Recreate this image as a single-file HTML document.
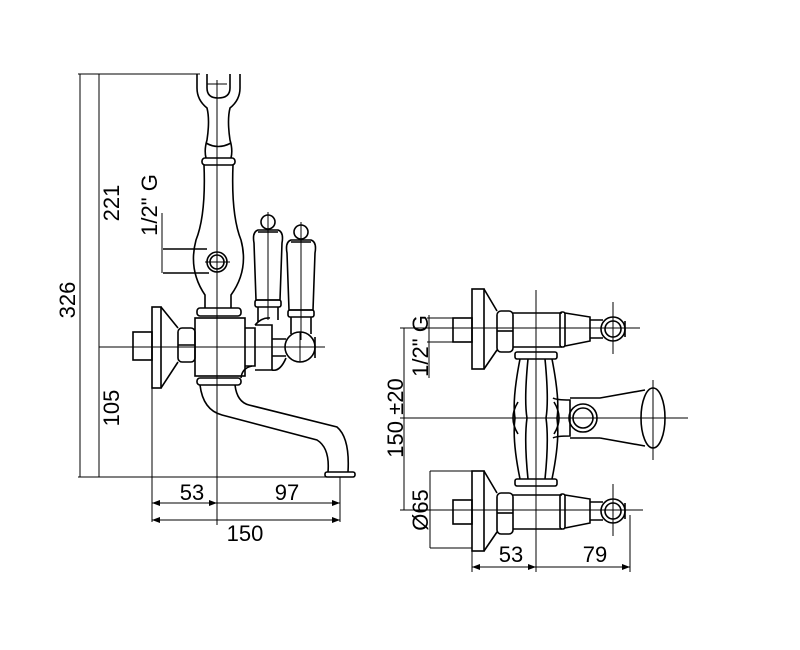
<!DOCTYPE html>
<html><head><style>body{margin:0;background:#fff}svg{display:block}text{font-family:"Liberation Sans",sans-serif;font-size:22px;fill:#000}</style></head>
<body>
<svg width="800" height="650" viewBox="0 0 800 650" xmlns="http://www.w3.org/2000/svg" fill="none" stroke="#000" stroke-width="1.6">
<defs><marker id="a" markerWidth="8" markerHeight="6" refX="8" refY="3" orient="auto"><path d="M0,0 L8,3 L0,6Z" fill="#000" stroke="none"/></marker></defs>
<g stroke-width="1">
<line x1="78" y1="74" x2="200" y2="74"/><line x1="78" y1="477" x2="330" y2="477"/>
<line x1="80" y1="74" x2="80" y2="477"/><line x1="99" y1="74" x2="99" y2="477"/>
<line x1="99" y1="347" x2="325" y2="347"/>
<line x1="217" y1="80" x2="217" y2="525"/>
<line x1="152" y1="388" x2="152" y2="522"/><line x1="340" y1="477" x2="340" y2="522"/>
<line x1="152" y1="503" x2="217" y2="503" marker-end="url(#a)"/><line x1="217" y1="503" x2="340" y2="503" marker-end="url(#a)"/>
<line x1="217" y1="503" x2="152" y2="503" marker-end="url(#a)"/>
<line x1="152" y1="520" x2="340" y2="520" marker-end="url(#a)"/><line x1="340" y1="520" x2="152" y2="520" marker-end="url(#a)"/>
<line x1="207" y1="84" x2="227" y2="84"/><line x1="205" y1="262" x2="230" y2="262"/>
<line x1="268" y1="212" x2="268" y2="320"/><line x1="301" y1="222" x2="301" y2="340"/>
<line x1="300" y1="332" x2="300" y2="362"/>
<line x1="162" y1="213" x2="162" y2="273"/>
</g>
<path d="M197,74 V88 Q197,100 207,108 Q210,120 207,140 Q204,150 206,158 M240,74 V88 Q240,100 230,108 Q227,120 230,140 Q233,150 231,158"/>
<path d="M207,74 V88 Q207,98 218,98 Q230,98 230,88 V74"/>
<path d="M206,143 Q218,150 231,143"/>
<rect x="202" y="158" width="33" height="7" rx="3"/>
<path d="M204,165 Q206,215 196,240 Q188,270 205,295 V308 M233,165 Q231,215 241,240 Q249,270 231,295 V308"/>
<rect x="197" y="308" width="44" height="8" rx="3"/>
<circle cx="217" cy="262" r="10"/><circle cx="217" cy="262" r="7"/>
<path d="M163,249 H207 M163,273 H209"/>
<rect x="152" y="307" width="9" height="81"/>
<path d="M161,307 L178,328 M161,388 L178,362"/>
<rect x="133" y="332" width="19" height="28"/>
<rect x="178" y="328" width="17" height="34" rx="4"/><line x1="178" y1="345" x2="195" y2="345"/>
<rect x="195" y="318" width="50" height="58"/>
<path d="M245,328 H255 V366 H245"/>
<path d="M255,325 H272 V370 H255"/>
<path d="M272,339 H286 M272,356 H286"/>
<circle cx="300" cy="347" r="15"/><path d="M315,337 V358"/>
<path d="M255,325 Q262,317 270,318 M272,370 Q280,372 286,358"/>
<circle cx="268" cy="222" r="7"/>
<path d="M258,232 H278 M254,243 Q252,232 258,230 H278 Q284,232 282,243 L280,300 H256 Z"/>
<rect x="255" y="300" width="26" height="7" rx="2"/><path d="M258,307 V322 M278,307 V320"/>
<circle cx="301" cy="232" r="7"/>
<path d="M291,242 H311 M287,253 Q285,242 291,240 H311 Q317,242 315,253 L313,310 H289 Z"/>
<rect x="288" y="310" width="26" height="7" rx="2"/><path d="M291,317 V334 M311,317 V334"/>
<rect x="197" y="378" width="44" height="7" rx="3"/>
<path d="M200,385 Q203,410 222,415 L317,440 Q330,448 328,472"/>
<path d="M235,385 Q237,402 249,405 L337,427 Q350,438 348,472"/>
<rect x="325" y="472" width="30" height="5" rx="2"/>
<path d="M241,378 Q242,368 252,366"/>
<g stroke="none">
<text transform="translate(75,300) rotate(-90)" text-anchor="middle">326</text>
<text transform="translate(119,203) rotate(-90)" text-anchor="middle">221</text>
<text transform="translate(119,408) rotate(-90)" text-anchor="middle">105</text>
<text transform="translate(157,205) rotate(-90)" text-anchor="middle">1/2" G</text>
<text x="192" y="500" text-anchor="middle">53</text>
<text x="287" y="500" text-anchor="middle">97</text>
<text x="245" y="541" text-anchor="middle">150</text>
<text transform="translate(403,418) rotate(-90)" text-anchor="middle">150 ±20</text>
<text transform="translate(428,346) rotate(-90)" text-anchor="middle">1/2" G</text>
<text transform="translate(428,510) rotate(-90)" text-anchor="middle">Ø65</text>
<text x="511" y="562" text-anchor="middle">53</text>
<text x="595" y="562" text-anchor="middle">79</text>
</g>
<g stroke-width="1">
<line x1="400" y1="328" x2="640" y2="328"/><line x1="400" y1="510" x2="643" y2="510"/><line x1="400" y1="418" x2="688" y2="418"/>
<line x1="536" y1="290" x2="536" y2="572"/>
<line x1="404" y1="328" x2="404" y2="510"/>
<line x1="427" y1="318" x2="453" y2="318"/><line x1="427" y1="342" x2="453" y2="342"/><line x1="429" y1="315" x2="429" y2="378"/>
<line x1="430" y1="471" x2="472" y2="471"/><line x1="430" y1="548" x2="472" y2="548"/><line x1="430" y1="471" x2="430" y2="548"/>
<line x1="472" y1="548" x2="472" y2="572"/><line x1="630" y1="515" x2="630" y2="572"/>
<line x1="472" y1="567" x2="536" y2="567" marker-end="url(#a)"/><line x1="536" y1="567" x2="472" y2="567" marker-end="url(#a)"/>
<line x1="536" y1="567" x2="630" y2="567" marker-end="url(#a)"/>
<line x1="613" y1="302" x2="613" y2="354"/><line x1="613" y1="484" x2="613" y2="536"/><line x1="653" y1="380" x2="653" y2="460"/>
</g>
<g id="v">
<rect x="472" y="289" width="12" height="80"/>
<path d="M484,289 L497,311 M484,369 L497,350"/>
<rect x="453" y="318" width="19" height="24"/>
<rect x="497" y="311" width="16" height="41" rx="4"/><line x1="497" y1="331" x2="513" y2="331"/>
<path d="M513,313 H562 M513,347 H562"/>
<rect x="560" y="312" width="5" height="35" rx="2"/>
<path d="M565,313 L590,317 V341 L565,346"/>
<path d="M590,320 H603 M590,338 H603"/>
<circle cx="613" cy="329" r="12"/><circle cx="613" cy="329" r="8"/><path d="M625,321 V337"/>
</g>
<use href="#v" transform="translate(0,182)"/>
<rect x="515" y="352" width="42" height="7" rx="2"/><rect x="515" y="479" width="42" height="7" rx="2"/>
<path d="M520,359 Q512,400 515,418 Q512,440 520,479 M552,359 Q560,400 557,418 Q560,440 552,479"/>
<path d="M528,359 Q524,400 527,418 Q524,440 528,479 M545,359 Q549,400 546,418 Q549,440 545,479"/>
<path d="M518,402 Q508,418 518,434 M554,402 Q564,418 554,434"/>
<path d="M553,398 Q556,400 570,400 V436 Q556,436 553,438"/>
<circle cx="583" cy="418" r="14"/><circle cx="583" cy="418" r="10"/>
<path d="M570,398 H600 L645,390 M600,438 L645,446 M570,438 H600"/>
<ellipse cx="653" cy="418" rx="12" ry="30"/>
</svg>
</body></html>
